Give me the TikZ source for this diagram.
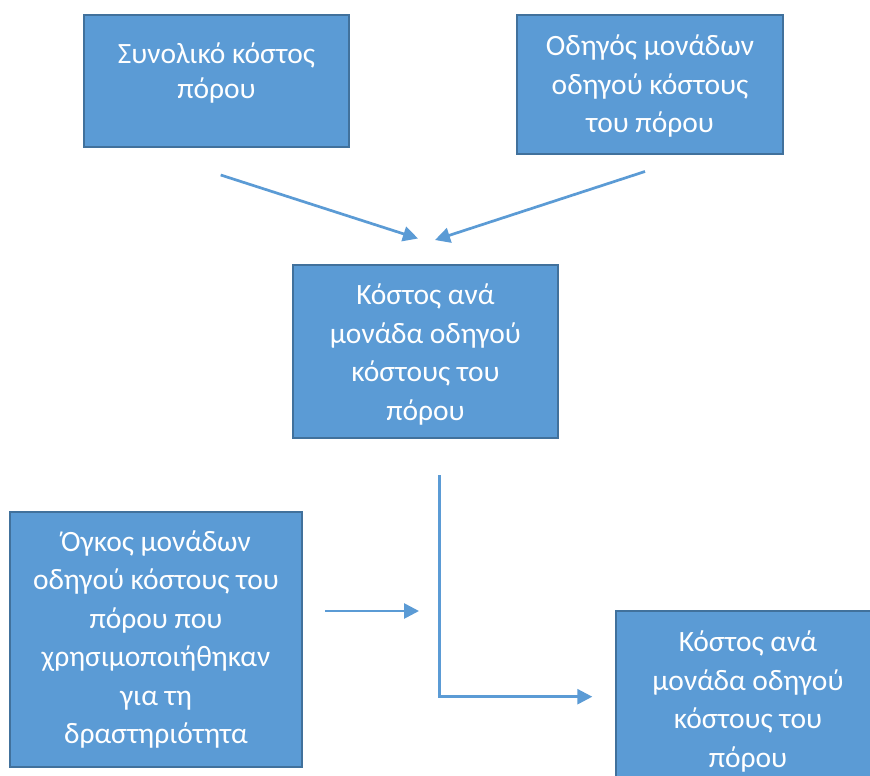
\documentclass[tikz,border=0pt]{standalone}
\usepackage{fontspec}
\setmainfont{Carlito}
\usetikzlibrary{arrows.meta}
\definecolor{boxfill}{HTML}{5B9BD5}
\definecolor{boxline}{HTML}{41719C}
\definecolor{arrowc}{HTML}{5B9BD5}
\tikzset{
  boxnode/.style={draw=boxline, line width=2pt, fill=boxfill, rectangle, inner sep=0pt, outer sep=0pt, anchor=north west},
  txt/.style={text=white, align=center, inner sep=0pt, font=\fontsize{29.5}{38.5}\selectfont},
  txtb/.style={text=white, align=center, inner sep=0pt, font=\fontsize{29.5}{35}\selectfont},
  conn/.style={draw=arrowc, line width=2.7pt, -{Triangle[length=15pt,width=15pt]}}
}
\begin{document}
\begin{tikzpicture}[x=1pt,y=-1pt]
\clip (0,0) rectangle (870,776);
\fill[white] (0,0) rectangle (870,776);
% boxes
\node[boxnode, minimum width=265pt, minimum height=132pt] (b1) at (84,15) {};
\node[boxnode, minimum width=266pt, minimum height=139pt] (b2) at (517,15) {};
\node[boxnode, minimum width=265pt, minimum height=173pt] (b3) at (293,265) {};
\node[boxnode, minimum width=292pt, minimum height=255pt] (b4) at (10,512) {};
\node[boxnode, minimum width=264pt, minimum height=173pt] (b5) at (616,611) {};
% texts
\node[txtb] (t1) at (216.5,73.5) {\strut Συνολικό κόστος\\πόρου\strut};
\node[txt] (t2) at (650,86.3) {\strut Οδηγός μονάδων\\οδηγού κόστους\\του πόρου\strut};
\node[txt] (t3) at (425.5,354.8) {\strut Κόστος ανά\\μονάδα οδηγού\\κόστους του\\πόρου\strut};
\node[txt] (t4) at (156,639.8) {\strut Όγκος μονάδων\\οδηγού κόστους του\\πόρου που\\χρησιμοποιήθηκαν\\για τη\\δραστηριότητα\strut};
\node[txt] (t5) at (748,701.8) {\strut Κόστος ανά\\μονάδα οδηγού\\κόστους του\\πόρου\strut};
% connector end points
\coordinate (a1s) at (220.7,175);
\coordinate (a1e) at (418,238.5);
\coordinate (a2s) at (645,171.5);
\coordinate (a2e) at (435,240);
\coordinate (a3s) at (325,611);
\coordinate (a3e) at (419,611);
\coordinate (a4s) at (439.3,475);
\coordinate (a4m) at (439.3,696.7);
\coordinate (a4e) at (592.3,696.7);
% connectors
\draw[conn] (a1s) -- (a1e);
\draw[conn] (a2s) -- (a2e);
\draw[conn] (a3s) -- (a3e);
\draw[conn] (a4s) -- (a4m) -- (a4e);
\end{tikzpicture}
\end{document}
